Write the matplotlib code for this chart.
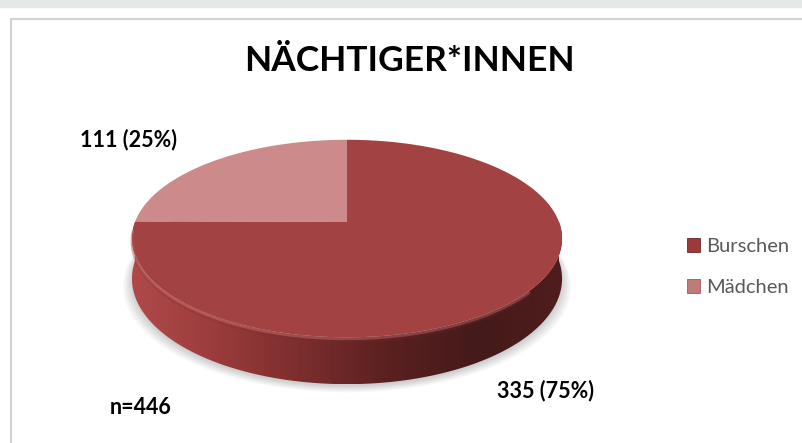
import numpy as np
import matplotlib
matplotlib.use("Agg")
import matplotlib.pyplot as plt
from matplotlib.patches import Polygon, Rectangle, Patch
from matplotlib.colors import LinearSegmentedColormap

# ---------------- data ----------------
title = "NÄCHTIGER*INNEN"
categories = ["Burschen", "Mädchen"]
counts = [335, 111]
percents = [75, 25]
n_total = 446

top_colors = ["#a34242", "#cc8a8a"]

plt.rcParams['font.family'] = ['Lato', 'DejaVu Sans']

fig = plt.figure(figsize=(8.03, 4.43), dpi=100)
ax = fig.add_axes([0, 0, 1, 1])
ax.set_xlim(0, 803)
ax.set_ylim(443, 0)
ax.axis("off")

# page background / chart frame
ax.add_patch(Rectangle((0, 0), 803, 7, color="#e5e8e8", zorder=0))
ax.add_patch(Rectangle((11, 19), 800, 440, facecolor="white",
                       edgecolor="#d3d3d3", lw=1.6, zorder=0))

# ---------------- perspective pie ----------------
cx, cy = 347, 222
a, b, p = 212, 96, 0.1675
depth = 39


def proj(t, z=0.0):
    u, v = np.cos(t), np.sin(t)
    s = 1.0 / (1.0 + p * v)
    return cx + a * u * s, cy - b * v * s + depth * z * s


fracs = np.array(counts) / sum(counts)
start = 90.0
angles = []
for f in fracs:
    angles.append((start - 360 * f, start))
    start -= 360 * f

# soft shadow under the pie
tt = np.radians(np.linspace(0, 360, 200))
for k in range(8):
    xs, ys = proj(tt, 1.0)
    xs = cx + (xs - cx) * (1.0 + 0.006 * k)
    ys = ys + 2 + k * 0.9
    ax.add_patch(Polygon(np.c_[xs, ys], closed=True, facecolor="#000000",
                         edgecolor="none", alpha=0.022, zorder=1))

# side (front rim) with horizontal gradient
ts = np.radians(np.linspace(180, 360, 200))
x0, y0 = proj(ts, 0.0)
x1, y1 = proj(ts, 1.0)
side = Polygon(np.r_[np.c_[x0, y0], np.c_[x1, y1][::-1]], closed=True,
               facecolor="none", edgecolor="none", zorder=2)
ax.add_patch(side)
cmap = LinearSegmentedColormap.from_list(
    "rim", ["#b04a4a", "#9a3b3b", "#7a2d2d", "#5a2020", "#451a1a", "#4f1d1d"])
grad = np.linspace(0, 1, 256).reshape(1, -1)
im = ax.imshow(grad, cmap=cmap, aspect="auto", zorder=2,
               extent=(x0.min(), x0.max(), y1.max(), y0.min() - 5))
im.set_clip_path(side)
ax.set_xlim(0, 803)
ax.set_ylim(443, 0)

# top faces
for (a0, a1), col in zip(angles, top_colors):
    t = np.radians(np.linspace(a0, a1, 200))
    xs, ys = proj(t)
    pts = np.r_[[[cx, cy]], np.c_[xs, ys]]
    ax.add_patch(Polygon(pts, closed=True, facecolor=col, edgecolor="none",
                         zorder=3))

# bevel highlight on the front edge
th = np.radians(np.linspace(185, 320, 150))
hx, hy = proj(th, 0.0)
ax.plot(hx, hy + 1.5, color="#d97a7a", lw=2.0, alpha=0.4, zorder=4,
        solid_capstyle="round")
ax.plot(hx, hy + 4, color="#7a2a2a", lw=2.0, alpha=0.2, zorder=4)

# ---------------- texts ----------------
ax.text(409, 61, title, ha="center", va="center", fontsize=25.5,
        fontweight="bold", color="#000000")
ax.text(80, 140, f"{counts[1]} ({percents[1]}%)", ha="left", va="center",
        fontsize=15.5, fontweight="bold", color="#000000")
ax.text(497, 391, f"{counts[0]} ({percents[0]}%)", ha="left", va="center",
        fontsize=15.5, fontweight="bold", color="#000000")
ax.text(110, 408, f"n={n_total}", ha="left", va="center",
        fontsize=15.5, fontweight="bold", color="#000000")

handles = [Patch(facecolor=c, edgecolor="#6a2a2a" if i == 0 else "#9a5a5a",
                 lw=0.6, label=lab)
           for i, (c, lab) in enumerate(zip(["#9a3a3a", "#c07a7a"], categories))]
fig.legend(handles=handles, loc="center left", bbox_to_anchor=(0.856, 0.397),
           frameon=False, fontsize=14.5, labelcolor="#595959",
           handlelength=0.65, handleheight=0.65, handletextpad=0.3,
           labelspacing=1.2, borderaxespad=0, borderpad=0)

fig.savefig("out.png", dpi=100)
